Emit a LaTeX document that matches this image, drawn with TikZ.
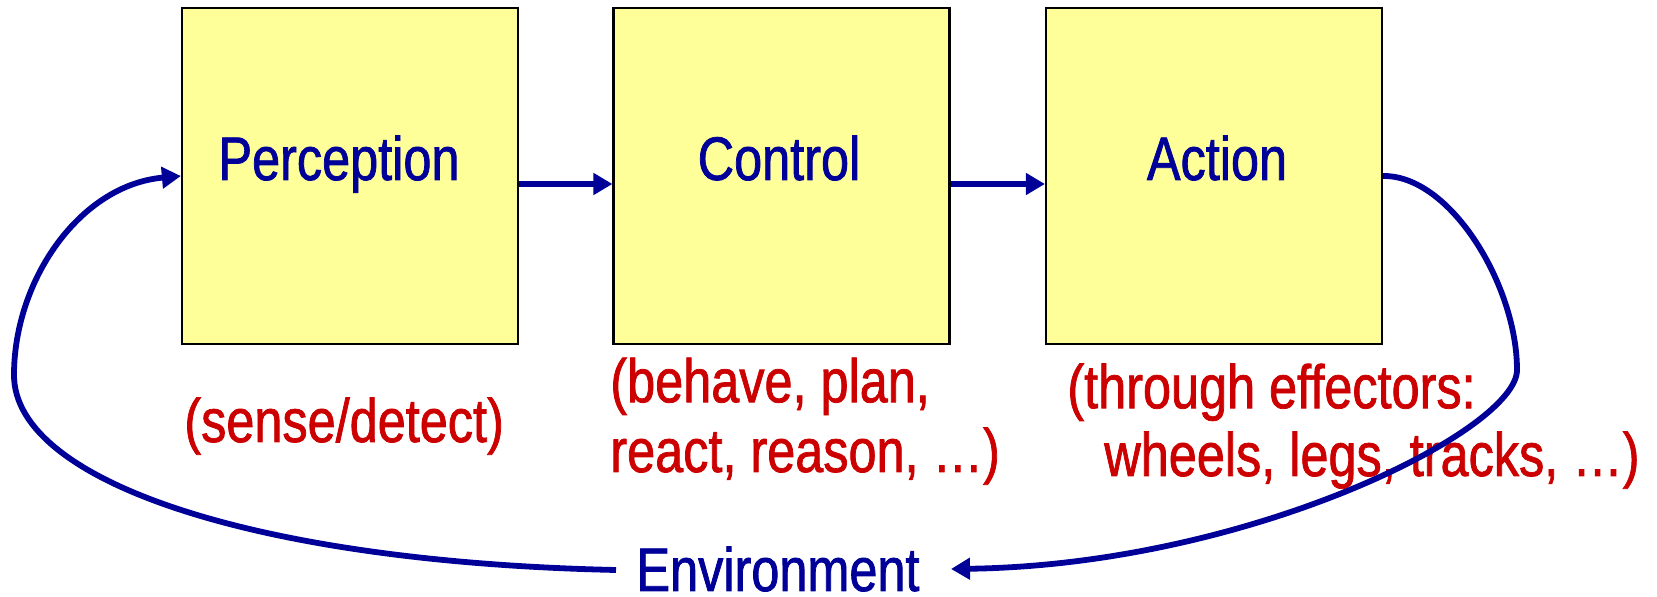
\documentclass[tikz,border=0pt]{standalone}
\usepackage{fontspec}
\setmainfont{Liberation Sans}[FakeStretch=0.82, FakeBold=1.2]
\usetikzlibrary{arrows.meta}
\definecolor{navy}{HTML}{000099}
\definecolor{darkred}{HTML}{CC0000}
\definecolor{paleyellow}{HTML}{FFFF99}
\begin{document}
\begin{tikzpicture}[x=0.02cm, y=-0.02cm,
  block/.style={draw=black, line width=1.3pt, fill=paleyellow, minimum width=6.72cm, minimum height=6.72cm, inner sep=0pt},
  blocklabel/.style={text=navy, font=\fontsize{35}{40}\selectfont, anchor=base, inner sep=0pt},
  note/.style={text=darkred, anchor=base west, inner sep=0pt, align=left},
  flow/.style={draw=navy, line width=3.3pt, -{Triangle[length=0.38cm, width=0.42cm]}},
]
\useasboundingbox (0,0) rectangle (1657,597);
\node[block] (P) at (350,176) {};
\node[block] (C) at (781.5,176) {};
\node[block] (A) at (1214,176) {};
\node[blocklabel] (Pl) at (339,180) {Perception};
\node[blocklabel] (Cl) at (779,180) {Control};
\node[blocklabel] (Al) at (1217,180) {Action};
\node[note, font=\fontsize{35}{39.7}\selectfont] (Pn) at (184,442) {(sense/detect)};
\node[note, font=\fontsize{35}{39.7}\selectfont] (Cn) at (610,472) {(behave, plan,\\react, reason, \dots)};
\node[note, font=\fontsize{35}{38.6}\selectfont] (An) at (1067,476) {(through effectors:\\\hspace*{0.74cm}wheels, legs, tracks, \dots)};
\node[blocklabel] (E) at (778,591) {Environment};
\coordinate (EL) at (616,570);
\coordinate (ER) at (951,569);
\draw[flow] ([yshift=-0.16cm]P.east) -- ([yshift=-0.16cm]C.west);
\draw[flow] ([yshift=-0.16cm]C.east) -- ([yshift=-0.16cm]A.west);
\draw[flow] (EL) .. controls (250,562) and (14,480) .. (14,375)
  .. controls (14,280) and (80,185) .. (P.west);
\draw[flow] (A.east) .. controls (1450,175) and (1517,285) .. (1517,370)
  .. controls (1517,430) and (1250,565) .. (ER);
\end{tikzpicture}
\end{document}
